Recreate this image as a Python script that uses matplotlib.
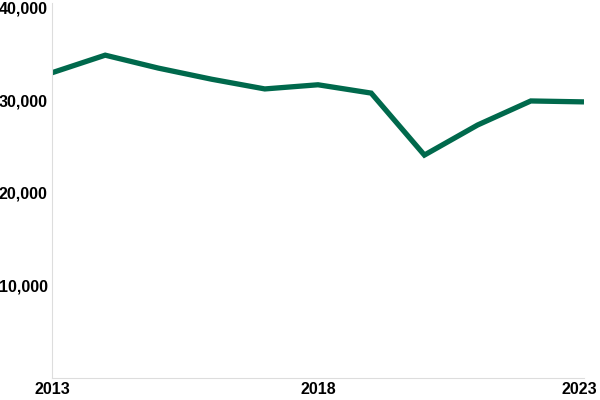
import matplotlib
matplotlib.use("Agg")
import matplotlib.pyplot as plt
import matplotlib.transforms as mtransforms
from matplotlib.ticker import FuncFormatter

# 数据：年份与数值
years = [2013, 2014, 2015, 2016, 2017, 2018, 2019, 2020, 2021, 2022, 2023]
values = [33000, 34900, 33500, 32300, 31250, 31700, 30800, 24100, 27350, 29950, 29850]
y_ticks = [10000, 20000, 30000, 40000]
x_ticks = [2013, 2018, 2023]

plt.rcParams['font.family'] = ['Liberation Sans', 'DejaVu Sans']

fig = plt.figure(figsize=(6, 4), dpi=100)
ax = fig.add_axes([52 / 600, 22 / 400, 532 / 600, 375 / 400])

ax.plot(years, values, color='#00694c', linewidth=3.8, solid_capstyle='butt',
        solid_joinstyle='miter')

ax.set_xlim(2013, 2023)
ax.set_ylim(0, 40540)
ax.set_yticks(y_ticks)
ax.set_xticks(x_ticks)
ax.yaxis.set_major_formatter(FuncFormatter(lambda v, p: f"{int(v):,}"))

for s in ['top', 'right']:
    ax.spines[s].set_visible(False)
for s in ['left', 'bottom']:
    ax.spines[s].set_color('#dddddd')
    ax.spines[s].set_linewidth(0.8)

ax.tick_params(axis='both', length=0, labelsize=11.5, colors='black')
ax.tick_params(axis='y', pad=3)
ax.tick_params(axis='x', pad=3)
for lbl in ax.get_xticklabels() + ax.get_yticklabels():
    lbl.set_fontweight('bold')

# 最后一个年份标签右对齐，避免被裁掉
last = ax.get_xticklabels()[-1]
last.set_horizontalalignment('right')
last.set_transform(last.get_transform() + mtransforms.ScaledTranslation(13 / 100, 0, fig.dpi_scale_trans))

fig.savefig('out.png', dpi=100)
